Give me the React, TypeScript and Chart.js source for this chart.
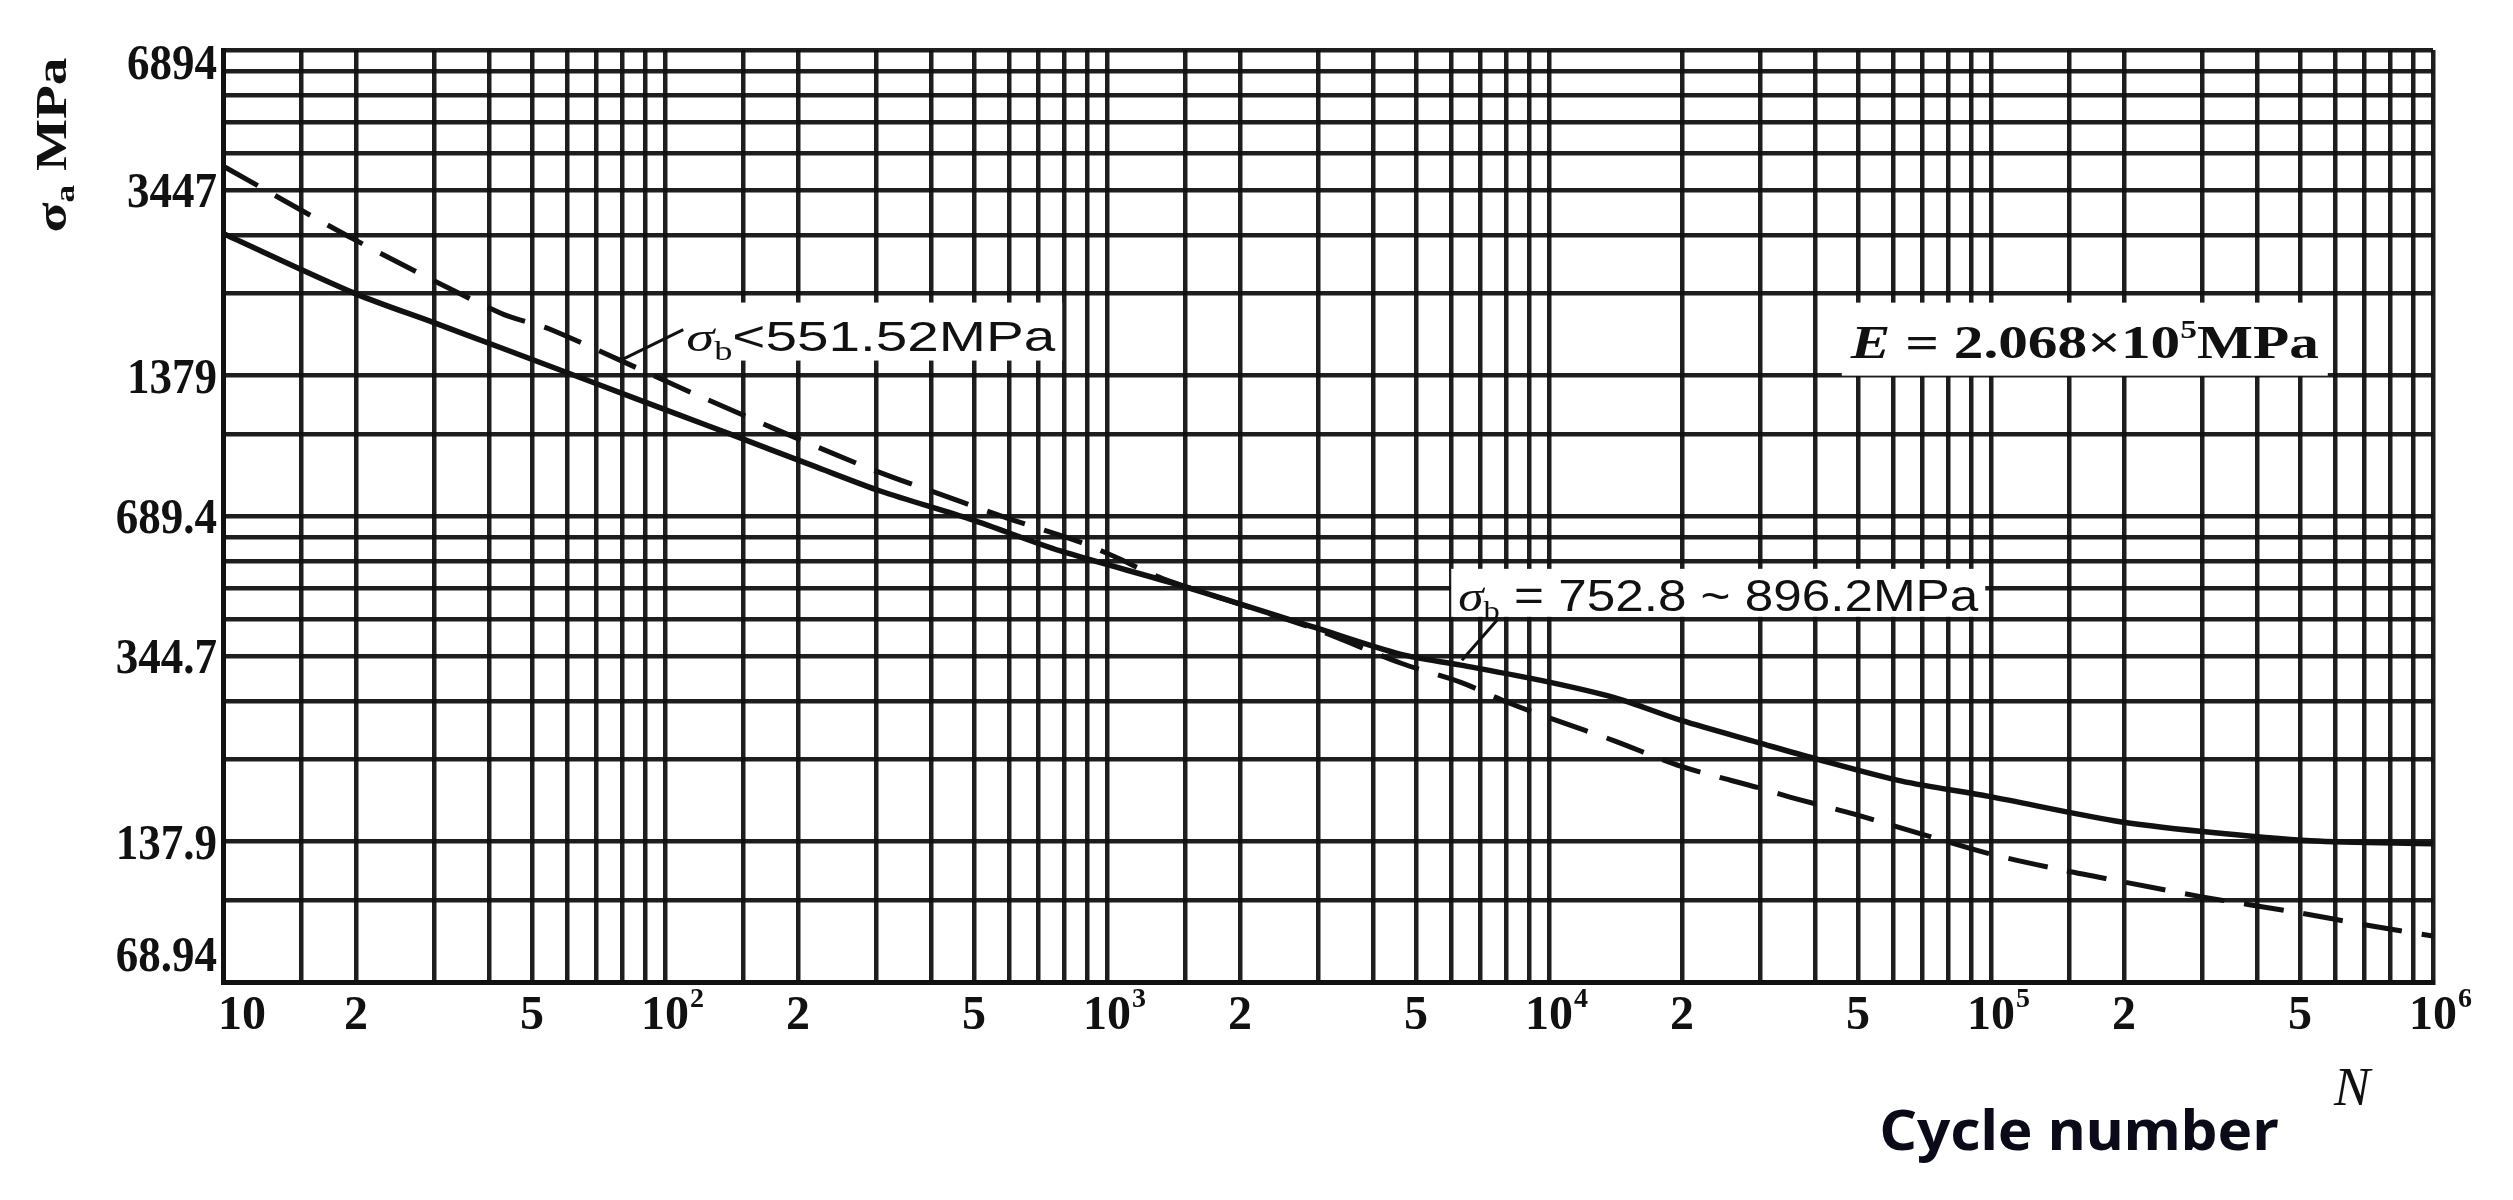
import React, { useEffect, useRef } from 'react';
import { Chart, registerables } from 'chart.js';

Chart.register(...registerables);

const WIDTH = 2513;
const HEIGHT = 1200;

// Solid curve: σb = 752.8~896.2 MPa  (N cycles, stress MPa)
const solidN = [10, 20, 30, 42.4, 67.4, 108, 142, 216, 308, 492, 785, 1470, 2940, 4630, 6320, 9590, 14060, 19920, 29770, 39890, 62810, 98900, 189800, 301300, 529300, 1000000];
const solidStress = [2785, 2066, 1792, 1585, 1343, 1135, 1029, 884, 779, 678, 580, 489, 398, 348, 330, 306, 281, 251, 225, 208, 186, 172.5, 153, 145, 138.5, 136.5];

// Dashed curve: σb < 551.52 MPa
const dashedN = [10, 20, 42.4, 55.3, 120, 279, 467, 615, 873, 1036, 1345, 2940, 4630, 6320, 8090, 10280, 14060, 19920, 29800, 36640, 49070, 70000, 98900, 143900, 200000, 300000, 500000, 700000, 1000000];
const dashedStress = [3886, 2691, 1880, 1730, 1245, 885, 740, 675, 605, 565, 505, 395, 333, 303, 274, 252, 227, 200, 180, 170, 158, 143, 130, 120, 113, 105, 97, 91.5, 86.5];

// Grid lines
const xGridN = [
  10, 15, 20, 30, 40, 50, 60, 70, 80, 90,
  100, 150, 200, 300, 400, 500, 600, 700, 800, 900,
  1000, 1500, 2000, 3000, 4000, 5000, 6000, 7000, 8000, 9000,
  10000, 20000, 30000, 40000, 50000, 60000, 70000, 80000, 90000,
  100000, 150000, 200000, 300000, 400000, 500000, 600000, 700000, 800000, 900000,
  1000000,
];
const yGridKsi = [10, 15, 20, 30, 40, 50, 60, 70, 80, 90, 100, 150, 200, 300, 400, 500, 600, 700, 800, 900, 1000];
const MPA_PER_KSI = 6.894;

// Tick labels
const xTickValues = [10, 20, 50, 100, 200, 500, 1000, 2000, 5000, 10000, 20000, 50000, 100000, 200000, 500000, 1000000];
const xTickText = ['10', '2', '5', '10', '2', '5', '10', '2', '5', '10', '2', '5', '10', '2', '5', '10'];
const xTickSup = ['', '', '', '2', '', '', '3', '', '', '4', '', '', '5', '', '', '6'];
const yTickValues = [6894, 3447, 1379, 689.4, 344.7, 137.9, 68.94];
const yTickText = ['6894', '3447', '1379', '689.4', '344.7', '137.9', '68.94'];

const INK = '#111111';
const GRID = 'rgba(18,18,18,0.95)';
const SERIF = '"Liberation Serif", "DejaVu Serif", serif';
const SANS = '"Liberation Sans", Arial, sans-serif';

type Seg = { t: string; font: string; dy?: number };

function drawRich(ctx: CanvasRenderingContext2D, segs: Seg[], cx: number, baseline: number, targetW?: number, color = INK) {
  ctx.save();
  let total = 0;
  const widths = segs.map((s) => {
    ctx.font = s.font;
    const w = ctx.measureText(s.t).width;
    total += w;
    return w;
  });
  const sx = targetW ? targetW / total : 1;
  ctx.translate(cx, baseline);
  ctx.scale(sx, 1);
  ctx.textAlign = 'left';
  ctx.textBaseline = 'alphabetic';
  ctx.fillStyle = color;
  let xp = -total / 2;
  segs.forEach((s, i) => {
    ctx.font = s.font;
    ctx.fillText(s.t, xp, s.dy || 0);
    xp += widths[i];
  });
  ctx.restore();
}

const textPlugin = {
  id: 'sketchText',
  afterDraw(chart: any) {
    const { ctx, chartArea } = chart;
    const xs = chart.scales.x;
    const ys = chart.scales.y;
    const px = (n: number) => xs.getPixelForValue(n);
    const py = (v: number) => ys.getPixelForValue(v);

    // y tick labels
    const yFont = `bold 50px ${SERIF}`;
    yTickValues.forEach((v, i) => {
      let cy = py(v);
      if (i === 0) cy = chartArea.top + 12;
      if (i === yTickValues.length - 1) cy = chartArea.bottom - 28;
      ctx.save();
      ctx.font = yFont;
      ctx.translate(chartArea.left - 6, cy + 17);
      ctx.scale(0.9, 1);
      ctx.textAlign = 'right';
      ctx.fillStyle = INK;
      ctx.fillText(yTickText[i], 0, 0);
      ctx.restore();
    });

    // x tick labels
    const xFont = `bold 48px ${SERIF}`;
    const supFont = `bold 28px ${SERIF}`;
    xTickValues.forEach((v, i) => {
      const cx = px(v);
      const base = chartArea.bottom + 47;
      ctx.save();
      ctx.fillStyle = INK;
      ctx.font = xFont;
      if (i === 0) {
        ctx.textAlign = 'left';
        ctx.fillText(xTickText[i], cx - 5, base);
      } else {
        ctx.textAlign = 'center';
        ctx.fillText(xTickText[i], cx, base);
        if (xTickSup[i]) {
          const w = ctx.measureText(xTickText[i]).width;
          ctx.font = supFont;
          ctx.textAlign = 'left';
          ctx.fillText(xTickSup[i], cx + w / 2 + 1, base - 22);
        }
      }
      ctx.restore();
    });

    // annotation boxes
    const boxes = [
      { n: 292, s: 1715, w: 383, h: 58 },
      { n: 24150, s: 471.6, w: 534, h: 48 },
      { n: 163000, s: 1652, w: 486, h: 73 },
    ];
    ctx.save();
    ctx.fillStyle = '#ffffff';
    boxes.forEach((b) => {
      const cx = px(b.n);
      const cy = py(b.s);
      ctx.fillRect(cx - b.w / 2, cy - b.h / 2, b.w, b.h);
    });
    ctx.restore();

    // leader lines
    ctx.save();
    ctx.strokeStyle = INK;
    ctx.lineWidth = 3;
    [
      [110, 1732, 79.3, 1488],
      [7640, 413, 6353, 338],
    ].forEach(([n1, s1, n2, s2]) => {
      ctx.beginPath();
      ctx.moveTo(px(n1), py(s1));
      ctx.lineTo(px(n2), py(s2));
      ctx.stroke();
    });
    ctx.restore();

    // annotation texts
    {
      const cx = px(292);
      const cy = py(1715);
      drawRich(ctx, [
        { t: 'σ', font: `italic 42px ${SERIF}` },
        { t: 'b', font: `27px ${SERIF}`, dy: 9 },
        { t: '<551.52MPa', font: `42px ${SANS}` },
      ], cx, cy + 19, 369);
    }
    {
      const cx = px(24150);
      const cy = py(471.6);
      drawRich(ctx, [
        { t: 'σ', font: `italic 44px ${SERIF}` },
        { t: 'b', font: `28px ${SERIF}`, dy: 9 },
        { t: ' = 752.8 ~ 896.2MPa', font: `44px ${SANS}` },
      ], cx, cy + 18, 520);
    }
    {
      const cx = px(163000);
      const cy = py(1652);
      drawRich(ctx, [
        { t: 'E', font: `italic bold 46px ${SERIF}` },
        { t: ' = 2.068×10', font: `bold 46px ${SERIF}` },
        { t: '5', font: `bold 26px ${SERIF}`, dy: -20 },
        { t: 'MPa', font: `bold 46px ${SERIF}` },
      ], cx, cy + 19, 468);
    }

    // y axis title (rotated)
    ctx.save();
    ctx.translate(chartArea.left - 173, chartArea.top + 95);
    ctx.rotate(-Math.PI / 2);
    drawRich(ctx, [
      { t: 'σ', font: `bold 44px ${SERIF}` },
      { t: 'a', font: `bold 28px ${SERIF}`, dy: 8 },
      { t: ' MPa', font: `bold 44px ${SERIF}` },
    ], 0, 16, 175);
    ctx.restore();

    // N and Cycle number
    ctx.save();
    ctx.fillStyle = INK;
    ctx.font = `italic 54px ${SERIF}`;
    ctx.textAlign = 'center';
    ctx.fillText('N', chartArea.right - 81, chartArea.bottom + 123);
    ctx.restore();
    drawRich(ctx, [{ t: 'Cycle number', font: `bold 55px "Noto Sans", "Open Sans", sans-serif` }], chartArea.right - 354, chartArea.bottom + 168, 399, '#0a0a18');
  },
};

export default function App() {
  const ref = useRef<HTMLCanvasElement | null>(null);

  useEffect(() => {
    const canvas = ref.current;
    if (!canvas) return;
    const chart = new Chart(canvas, {
      type: 'line',
      data: {
        datasets: [
          {
            label: 'σb = 752.8~896.2MPa',
            data: solidN.map((n, i) => ({ x: n, y: solidStress[i] })),
            borderColor: INK,
            borderWidth: 5.5,
            pointRadius: 0,
            tension: 0.3,
            fill: false,
          },
          {
            label: 'σb < 551.52MPa',
            data: dashedN.map((n, i) => ({ x: n, y: dashedStress[i] })),
            borderColor: INK,
            borderWidth: 5,
            borderDash: [40, 20],
            pointRadius: 0,
            tension: 0.3,
            fill: false,
          },
        ],
      },
      options: {
        responsive: false,
        animation: false,
        devicePixelRatio: 1,
        layout: { padding: { top: 50, right: 80, bottom: 0, left: 0 } },
        plugins: { legend: { display: false }, tooltip: { enabled: false } },
        scales: {
          x: {
            type: 'logarithmic',
            min: 10,
            max: 1000000,
            afterBuildTicks: (s: any) => {
              s.ticks = xGridN.map((v) => ({ value: v }));
            },
            afterFit: (s: any) => {
              s.height = 218;
            },
            ticks: { display: false, autoSkip: false },
            grid: { color: GRID, lineWidth: 4.5, drawTicks: false },
            border: { display: true, color: INK, width: 5 },
          },
          y: {
            type: 'logarithmic',
            min: 68.94,
            max: 6894,
            afterBuildTicks: (s: any) => {
              s.ticks = yGridKsi.map((k) => ({ value: k * MPA_PER_KSI }));
            },
            afterFit: (s: any) => {
              s.width = 223;
            },
            ticks: { display: false, autoSkip: false },
            grid: { color: GRID, lineWidth: 4.5, drawTicks: false },
            border: { display: true, color: INK, width: 5 },
          },
        },
      } as any,
      plugins: [textPlugin],
    });
    return () => chart.destroy();
  }, []);

  return (
    <div style={{ position: 'fixed', left: 0, top: 0, width: WIDTH, height: HEIGHT, background: '#fff' }}>
      <canvas ref={ref} width={WIDTH} height={HEIGHT} style={{ display: 'block', width: WIDTH, height: HEIGHT }} />
    </div>
  );
}
